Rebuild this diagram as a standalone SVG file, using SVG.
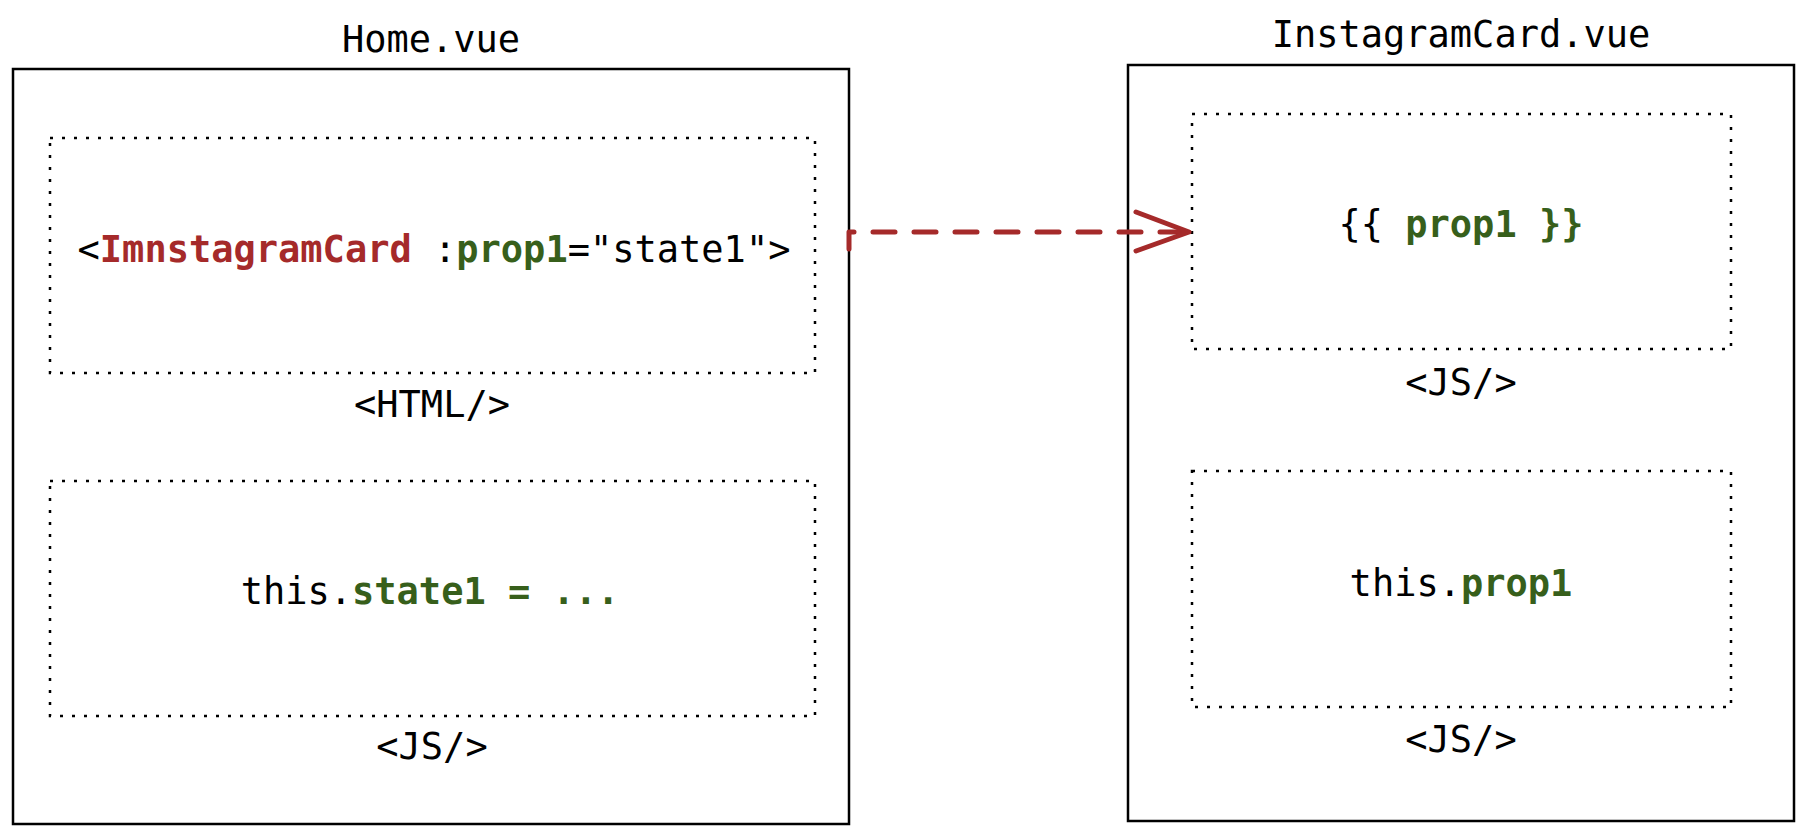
<svg xmlns="http://www.w3.org/2000/svg" width="1820" height="838" viewBox="0 0 1820 838">
<style>
  .outer { fill: #ffffff; stroke: #000000; stroke-width: 2.5; }
  .dotted { fill: none; stroke: #000000; stroke-width: 2.5; stroke-dasharray: 3 9; }
  text { font-family: "DejaVu Sans Mono", "Liberation Mono", monospace; font-size: 37px; fill: #000000; text-anchor: middle; }
  .red { fill: #a52a2a; font-weight: bold; }
  .green { fill: #375f1b; font-weight: bold; }
  .conn { fill: none; stroke: #a52a2a; stroke-width: 5; stroke-linecap: round; stroke-linejoin: round; }
</style>
<rect width="1820" height="838" fill="#ffffff"/>
<g id="home">
  <text x="431" y="52">Home.vue</text>
  <rect class="outer" x="13" y="69" width="836" height="755"/>
  <g id="home-html">
    <rect class="dotted" x="50" y="138" width="765" height="235"/>
    <text x="434" y="262">&lt;<tspan class="red">ImnstagramCard</tspan> :<tspan class="green">prop1</tspan>="state1"&gt;</text>
    <text x="432" y="417">&lt;HTML/&gt;</text>
  </g>
  <g id="home-js">
    <rect class="dotted" x="50" y="481" width="765" height="235"/>
    <text x="430" y="604">this.<tspan class="green">state1 = ...</tspan></text>
    <text x="432" y="759">&lt;JS/&gt;</text>
  </g>
</g>
<g id="card">
  <text x="1461" y="47">InstagramCard.vue</text>
  <rect class="outer" x="1128" y="65" width="666" height="756"/>
  <g id="card-template">
    <rect class="dotted" x="1192" y="114" width="539" height="235"/>
    <text x="1461" y="237">{{ <tspan class="green">prop1 }}</tspan></text>
    <text x="1461" y="395">&lt;JS/&gt;</text>
  </g>
  <g id="card-js">
    <rect class="dotted" x="1192" y="471" width="539" height="236"/>
    <text x="1461" y="596">this.<tspan class="green">prop1</tspan></text>
    <text x="1461" y="752">&lt;JS/&gt;</text>
  </g>
</g>
<g id="connectors">
  <path class="conn" d="M 849 249 L 849 232 L 1186 232" stroke-dasharray="22 19"/>
  <path class="conn" d="M 1136 212 L 1189 232 L 1136 251"/>
</g>
</svg>
